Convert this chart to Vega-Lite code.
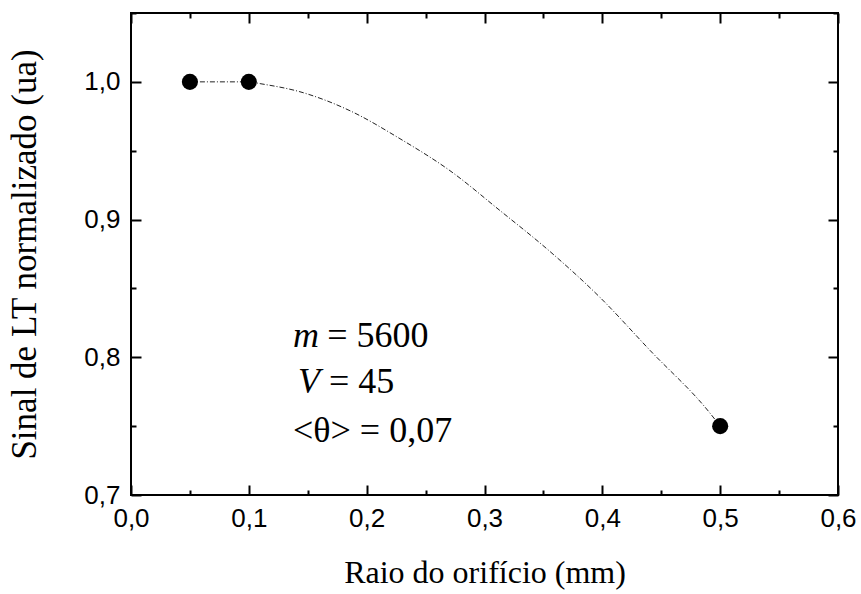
{
  "$schema": "https://vega.github.io/schema/vega-lite/v6.json",
  "width": 707,
  "height": 482,
  "autosize": {"type": "none"},
  "padding": {"left": 131, "top": 13, "right": 23, "bottom": 99},
  "background": "white",
  "config": {
    "view": {"stroke": "black", "strokeWidth": 2},
    "axis": {"grid": false, "domain": false, "tickColor": "black", "tickWidth": 2, "labelColor": "black", "titleColor": "black"}
  },
  "datasets": {
    "curve": [
      {"x": 0.05, "y": 1.0},
      {"x": 0.1, "y": 1.0},
      {"x": 0.1103, "y": 0.9986},
      {"x": 0.1434, "y": 0.9928},
      {"x": 0.1859, "y": 0.979},
      {"x": 0.2283, "y": 0.9587},
      {"x": 0.2707, "y": 0.9355},
      {"x": 0.3132, "y": 0.9065},
      {"x": 0.3556, "y": 0.8768},
      {"x": 0.398, "y": 0.8435},
      {"x": 0.4405, "y": 0.805},
      {"x": 0.4914, "y": 0.7594},
      {"x": 0.5, "y": 0.75}
    ],
    "pts": [
      {"x": 0.05, "y": 1.0},
      {"x": 0.1, "y": 1.0},
      {"x": 0.5, "y": 0.75}
    ],
    "ann": [
      {"x": 0.1375, "y": 0.8072, "t": "m", "kind": "var"},
      {"x": 0.1665, "y": 0.8072, "t": "= 5600", "kind": "txt"},
      {"x": 0.1417, "y": 0.7739, "t": "V", "kind": "var"},
      {"x": 0.168, "y": 0.7739, "t": "= 45", "kind": "txt"},
      {"x": 0.1375, "y": 0.7384, "t": "<θ> = 0,07", "kind": "txt"}
    ]
  },
  "resolve": {"axis": {"x": "independent", "y": "independent"}},
  "layer": [
    {
      "data": {"name": "curve"},
      "mark": {"type": "line", "interpolate": "monotone", "color": "#222222", "strokeWidth": 1, "strokeDash": [5, 2, 1, 2]},
      "encoding": {
        "x": {"field": "x", "type": "quantitative", "scale": {"domain": [0, 0.6], "nice": false, "zero": false},
          "axis": {"orient": "bottom", "title": "Raio do orifício (mm)", "values": [0, 0.05, 0.1, 0.15, 0.2, 0.25, 0.3, 0.35, 0.4, 0.45, 0.5, 0.55, 0.6],
            "tickSize": {"condition": {"test": "abs(round(datum.value*10) - datum.value*10) < 0.001", "value": -10}, "value": -5},
            "labelExpr": "abs(round(datum.value*10) - datum.value*10) < 0.001 ? replace(format(datum.value, '.1f'), '.', ',') : ''",
            "labelFont": "Liberation Sans", "labelFontSize": 26, "labelPadding": 20, "labelFlush": false, "labelOverlap": false,
            "titleFont": "Liberation Serif", "titleFontSize": 32, "titleFontWeight": "normal", "titlePadding": 21}},
        "y": {"field": "y", "type": "quantitative", "scale": {"domain": [0.7, 1.05], "nice": false, "zero": false},
          "axis": {"orient": "left", "title": "Sinal de LT normalizado (ua)", "values": [0.7, 0.75, 0.8, 0.85, 0.9, 0.95, 1.0, 1.05],
            "tickSize": {"condition": {"test": "abs(round(datum.value*10) - datum.value*10) < 0.001", "value": -10}, "value": -5},
            "labelExpr": "abs(round(datum.value*10) - datum.value*10) < 0.001 ? replace(format(datum.value, '.1f'), '.', ',') : ''",
            "labelFont": "Liberation Sans", "labelFontSize": 26, "labelPadding": 21, "labelFlush": false, "labelOverlap": false,
            "titleFont": "Liberation Serif", "titleFontSize": 35, "titleFontWeight": "normal", "titlePadding": 41}}
      }
    },
    {
      "data": {"name": "pts"},
      "mark": {"type": "point", "shape": "circle", "filled": true, "color": "black", "opacity": 1, "size": 260},
      "encoding": {
        "x": {"field": "x", "type": "quantitative",
          "axis": {"orient": "top", "title": null, "labels": false, "values": [0, 0.05, 0.1, 0.15, 0.2, 0.25, 0.3, 0.35, 0.4, 0.45, 0.5, 0.55, 0.6],
            "tickSize": {"condition": {"test": "abs(round(datum.value*10) - datum.value*10) < 0.001", "value": -10}, "value": -5}}},
        "y": {"field": "y", "type": "quantitative",
          "axis": {"orient": "right", "title": null, "labels": false, "values": [0.7, 0.75, 0.8, 0.85, 0.9, 0.95, 1.0, 1.05],
            "tickSize": {"condition": {"test": "abs(round(datum.value*10) - datum.value*10) < 0.001", "value": -10}, "value": -5}}}
      }
    },
    {
      "data": {"name": "ann"},
      "transform": [{"filter": "datum.kind === 'var'"}],
      "mark": {"type": "text", "align": "left", "baseline": "alphabetic", "font": "Liberation Serif", "fontStyle": "italic", "fontSize": 36, "color": "black"},
      "encoding": {
        "x": {"field": "x", "type": "quantitative", "axis": null},
        "y": {"field": "y", "type": "quantitative", "axis": null},
        "text": {"field": "t"}
      }
    },
    {
      "data": {"name": "ann"},
      "transform": [{"filter": "datum.kind === 'txt'"}],
      "mark": {"type": "text", "align": "left", "baseline": "alphabetic", "font": "Liberation Serif", "fontSize": 36, "color": "black"},
      "encoding": {
        "x": {"field": "x", "type": "quantitative", "axis": null},
        "y": {"field": "y", "type": "quantitative", "axis": null},
        "text": {"field": "t"}
      }
    }
  ]
}
